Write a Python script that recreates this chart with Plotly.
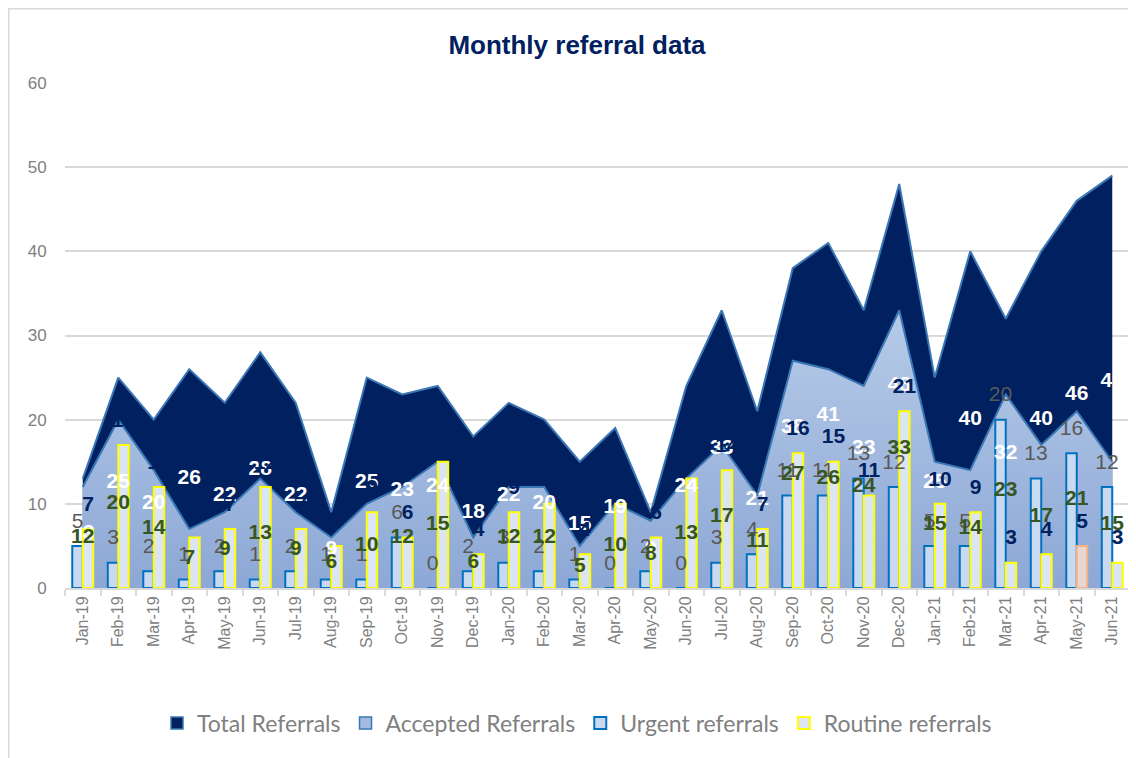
import plotly.graph_objects as go

months = ["Jan-19", "Feb-19", "Mar-19", "Apr-19", "May-19", "Jun-19", "Jul-19", "Aug-19",
          "Sep-19", "Oct-19", "Nov-19", "Dec-19", "Jan-20", "Feb-20", "Mar-20", "Apr-20",
          "May-20", "Jun-20", "Jul-20", "Aug-20", "Sep-20", "Oct-20", "Nov-20", "Dec-20",
          "Jan-21", "Feb-21", "Mar-21", "Apr-21", "May-21", "Jun-21"]
total = [13, 25, 20, 26, 22, 28, 22, 9, 25, 23, 24, 18, 22, 20, 15, 19, 9, 24, 33, 21,
         38, 41, 33, 48, 25, 40, 32, 40, 46, 49]
accepted = [12, 20, 14, 7, 9, 13, 9, 6, 10, 12, 15, 6, 12, 12, 5, 10, 8, 13, 17, 11,
            27, 26, 24, 33, 15, 14, 23, 17, 21, 15]
urgent = [5, 3, 2, 1, 2, 1, 2, 1, 1, 6, 0, 2, 3, 2, 1, 0, 2, 0, 3, 4,
          11, 11, 13, 12, 5, 5, 20, 13, 16, 12]
routine = [7, 17, 12, 6, 7, 12, 7, 5, 9, 6, 15, 4, 9, 10, 4, 10, 6, 13, 14, 7,
           16, 15, 11, 21, 10, 9, 3, 4, 5, 3]

NAVY = "#002060"
EDGE = "#3A78B5"
n = len(months)
idx = list(range(n))
BAR_GAP = 0.41
half_bar = (1 - BAR_GAP) / 4  # centre offset of each bar in a group of two
LABEL_PAD = 2.8

routine_fill = ["#E9D6D2" if m == "May-21" else "#DCE5F4" for m in months]
routine_line = ["#F4B183" if m == "May-21" else "#FFFF00" for m in months]

fig = go.Figure()

# Areas (main axes)
fig.add_trace(go.Scatter(x=months, y=total, mode="lines", fill="tozeroy",
                         fillcolor=NAVY, line=dict(color=EDGE, width=2),
                         showlegend=False, hoverinfo="skip", xaxis="x", yaxis="y"))
fig.add_trace(go.Scatter(x=months, y=accepted, mode="lines", fill="tozeroy",
                         fillgradient=dict(type="vertical",
                                           colorscale=[[0, "#8DA8D6"], [1, "#B7CBE8"]]),
                         line=dict(color=EDGE, width=2),
                         showlegend=False, hoverinfo="skip", xaxis="x", yaxis="y"))

# Bars (overlay axes so they sit above the areas)
fig.add_trace(go.Bar(x=months, y=urgent, name="Urgent referrals",
                     marker=dict(color="#C9DAF0", line=dict(color="#0070C0", width=2)),
                     legendrank=3, xaxis="x2", yaxis="y2"))
fig.add_trace(go.Bar(x=months, y=routine, name="Routine referrals",
                     marker=dict(color=routine_fill, line=dict(color=routine_line, width=2)),
                     legendrank=4, xaxis="x2", yaxis="y2"))

# Legend-only entries for the areas
fig.add_trace(go.Bar(x=[None], y=[None], name="Total Referrals",
                     marker=dict(color=NAVY, line=dict(color=EDGE, width=1.5)),
                     legendrank=1, xaxis="x3", yaxis="y3"))
fig.add_trace(go.Bar(x=[None], y=[None], name="Accepted Referrals",
                     marker=dict(color="#A3BBE0", line=dict(color=EDGE, width=1.5)),
                     legendrank=2, xaxis="x3", yaxis="y3"))

LBL_FONT = "Liberation Sans, Arial, sans-serif"
# Data labels
fig.add_trace(go.Scatter(x=idx, y=[v / 2 for v in total], mode="text",
                         text=[str(v) for v in total],
                         textfont=dict(family=LBL_FONT, size=21, color="white", weight="bold"),
                         showlegend=False, hoverinfo="skip", xaxis="x3", yaxis="y3",
                         cliponaxis=False))
fig.add_trace(go.Scatter(x=[i - half_bar for i in idx], y=[v + LABEL_PAD for v in urgent],
                         mode="text", text=[str(v) for v in urgent],
                         textfont=dict(family=LBL_FONT, size=21, color="#595959"),
                         showlegend=False, hoverinfo="skip", xaxis="x3", yaxis="y3",
                         cliponaxis=False))
fig.add_trace(go.Scatter(x=idx, y=[v / 2 for v in accepted], mode="text",
                         text=[str(v) for v in accepted],
                         textfont=dict(family=LBL_FONT, size=21, color="#375623", weight="bold"),
                         showlegend=False, hoverinfo="skip", xaxis="x3", yaxis="y3",
                         cliponaxis=False))
fig.add_trace(go.Scatter(x=[i + half_bar for i in idx], y=[v + LABEL_PAD for v in routine],
                         mode="text", text=[str(v) for v in routine],
                         textfont=dict(family=LBL_FONT, size=21, color=NAVY, weight="bold"),
                         showlegend=False, hoverinfo="skip", xaxis="x3", yaxis="y3",
                         cliponaxis=False))

TICK_FONT = dict(family="Liberation Sans, Arial, sans-serif", size=16, color="#808080")
rng = [-0.5, n - 0.5]

# The page body adds an 8px offset; the figure is sized to fit inside the window.
FIG_W, FIG_H = 1128, 750
ML, MT, PW, PH = 57, 75, 1065, 505

fig.update_layout(
    width=FIG_W, height=FIG_H,
    margin=dict(l=ML, r=FIG_W - ML - PW, t=MT, b=FIG_H - MT - PH, autoexpand=False),
    paper_bgcolor="white", plot_bgcolor="white",
    barmode="group", bargap=BAR_GAP, bargroupgap=0,
    title=dict(text="<b>Monthly referral data</b>",
               font=dict(family="Liberation Sans Narrow, Arial Narrow, Liberation Sans, Arial",
                         size=26, color=NAVY),
               x=569 / FIG_W, xanchor="center", xref="container",
               y=1 - 37 / FIG_H, yanchor="middle", yref="container"),
    xaxis=dict(type="category", categoryorder="array", categoryarray=months, range=rng,
               tickangle=-90, tickfont=TICK_FONT, ticks="outside", tickson="boundaries",
               ticklen=6, tickcolor="#D9D9D9", tickwidth=1.5, automargin=False,
               showline=True, linecolor="#D9D9D9", linewidth=2, showgrid=False),
    yaxis=dict(range=[0, 60], dtick=10, showgrid=True, gridcolor="#D9D9D9", gridwidth=1.5,
               zeroline=False, showline=False, tickfont=dict(TICK_FONT, size=17),
               ticks="outside", ticklen=14, tickcolor="rgba(0,0,0,0)", automargin=False),
    xaxis2=dict(type="category", categoryorder="array", categoryarray=months, range=rng,
                overlaying="x", anchor="y2", visible=False, automargin=False),
    yaxis2=dict(range=[0, 60], overlaying="y", anchor="x2", visible=False, automargin=False),
    xaxis3=dict(type="linear", range=rng, overlaying="x", anchor="y3", visible=False,
                automargin=False),
    yaxis3=dict(range=[0, 60], overlaying="y", anchor="x3", visible=False, automargin=False),
    legend=dict(orientation="h", x=(577 - 65) / PW, xanchor="center",
                y=(588 - 723) / PH, yanchor="middle",
                font=dict(family="Lato, Calibri, sans-serif", size=23, color="#808080"),
                traceorder="normal", itemclick=False),
    showlegend=True,
)

# Light outer chart border
fig.add_shape(type="rect", xref="paper", yref="paper",
              x0=(0.75 - ML) / PW, x1=(FIG_W + 10 - ML) / PW,
              y0=(MT + PH - FIG_H - 10) / PH, y1=(MT + PH - 0.75) / PH,
              line=dict(color="#D9D9D9", width=1.5), fillcolor="rgba(0,0,0,0)", layer="below")

fig.write_html("out.html")
